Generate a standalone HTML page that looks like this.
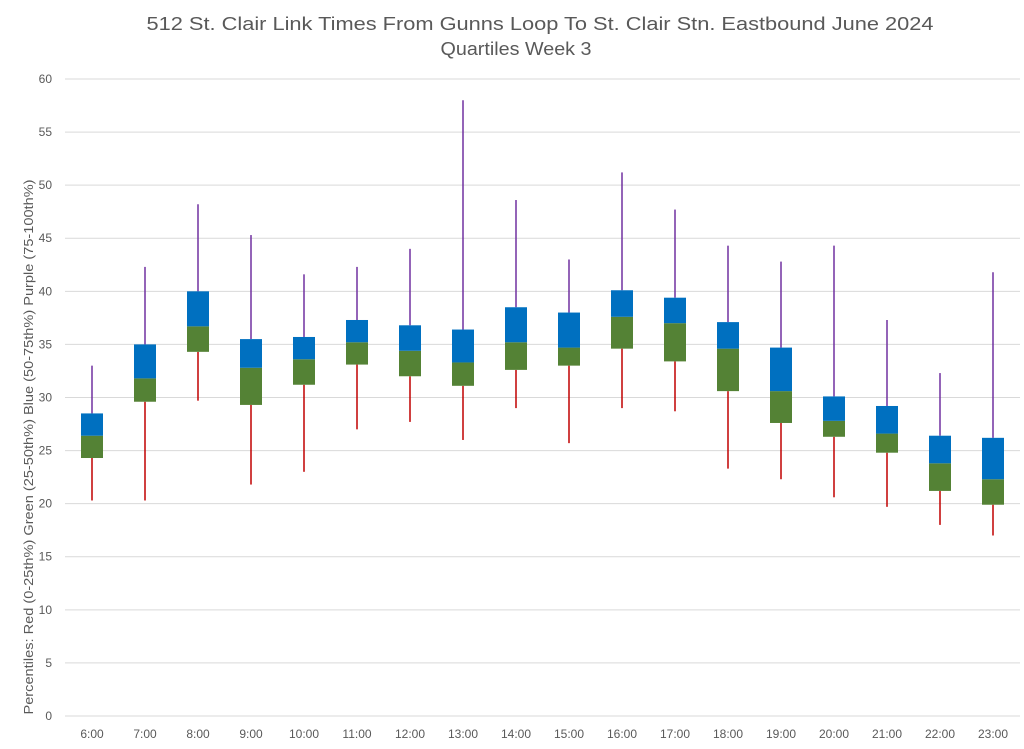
<!DOCTYPE html>
<html><head><meta charset="utf-8"><style>
body{margin:0;background:#fff;}
svg{display:block;font-family:"Liberation Sans",sans-serif;}
</style></head><body>
<svg id="c" width="1024" height="749" xmlns="http://www.w3.org/2000/svg">
<rect width="1024" height="749" fill="#fff"/>
<text x="540" y="30" text-anchor="middle" font-size="18" fill="#595959" textLength="787" lengthAdjust="spacingAndGlyphs">512 St. Clair Link Times From Gunns Loop To St. Clair Stn. Eastbound June 2024</text>
<text x="516" y="55" text-anchor="middle" font-size="18" fill="#595959" textLength="151" lengthAdjust="spacingAndGlyphs">Quartiles Week 3</text>
<text transform="translate(33,447) rotate(-90)" text-anchor="middle" font-size="13" fill="#595959" textLength="535" lengthAdjust="spacingAndGlyphs">Percentiles:  Red (0-25th%)  Green (25-50th%)  Blue (50-75th%)  Purple (75-100th%)</text>
<g id="g"></g>
</svg>
<script>
var g=document.getElementById('g'),s='';
function Y(v){return 716-v*10.617;}
for(var i=0;i<=12;i++){var y=Y(i*5);
s+='<line x1="65" x2="1020" y1="'+y+'" y2="'+y+'" stroke="#d9d9d9" stroke-width="1"/>';
s+='<text x="52" y="'+(y+4)+'" text-anchor="end" font-size="12" fill="#595959">'+(i*5)+'</text>';}
var d=[[20.3,24.3,26.4,28.5,33],[20.3,29.6,31.8,35,42.3],[29.7,34.3,36.7,40,48.2],[21.8,29.3,32.8,35.5,45.3],[23,31.2,33.6,35.7,41.6],[27,33.1,35.2,37.3,42.3],[27.7,32,34.4,36.8,44],[26,31.1,33.3,36.4,58],[29,32.6,35.2,38.5,48.6],[25.7,33,34.7,38,43],[29,34.6,37.6,40.1,51.2],[28.7,33.4,37,39.4,47.7],[23.3,30.6,34.6,37.1,44.3],[22.3,27.6,30.6,34.7,42.8],[20.6,26.3,27.8,30.1,44.3],[19.7,24.8,26.6,29.2,37.3],[18,21.2,23.8,26.4,32.3],[17,19.9,22.3,26.2,41.8]];
for(var k=0;k<18;k++){var x=92+k*53,a=d[k];
s+='<line x1="'+x+'" x2="'+x+'" y1="'+Y(a[0])+'" y2="'+Y(a[1])+'" stroke="#C00000" stroke-width="1.5"/>';
s+='<line x1="'+x+'" x2="'+x+'" y1="'+Y(a[3])+'" y2="'+Y(a[4])+'" stroke="#7030A0" stroke-width="1.5"/>';
s+='<rect x="'+(x-11)+'" y="'+Y(a[2])+'" width="22" height="'+(Y(a[1])-Y(a[2]))+'" fill="#548235"/>';
s+='<rect x="'+(x-11)+'" y="'+Y(a[3])+'" width="22" height="'+(Y(a[2])-Y(a[3]))+'" fill="#0070C0"/>';
s+='<text x="'+x+'" y="738" text-anchor="middle" font-size="12" fill="#595959">'+(k+6)+':00</text>';}
g.innerHTML=s;
</script>
</body></html>
